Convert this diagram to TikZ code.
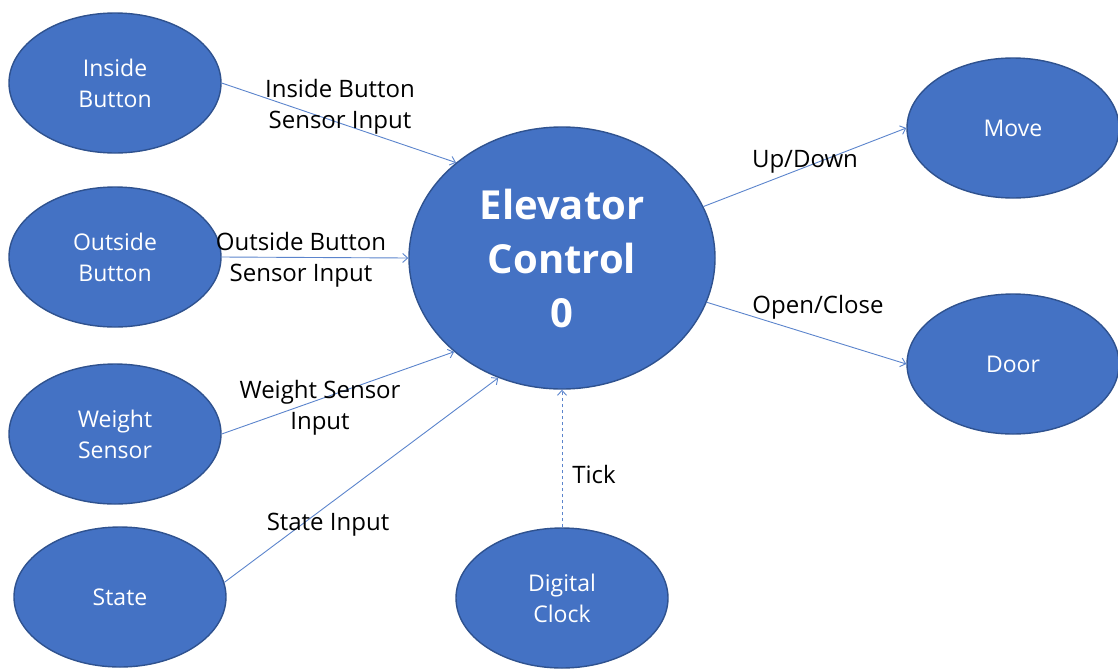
\documentclass[tikz,border=0pt]{standalone}
\usepackage{fontspec}
\setmainfont{Open Sans}
\usetikzlibrary{shapes.geometric,arrows.meta}
\definecolor{nodefill}{HTML}{4472C4}
\definecolor{nodeedge}{HTML}{2F528F}
\definecolor{linkblue}{HTML}{5B84CC}

\begin{document}
\begin{tikzpicture}[x=1pt,y=-1pt,
  blob/.style={ellipse, draw=nodeedge, line width=1.4pt, fill=nodefill, text=white,
    align=center, inner sep=0pt, minimum width=212pt, minimum height=140pt,
    font=\fontsize{23}{31}\selectfont},
  link/.style={draw=linkblue, line width=0.9pt, -{Straight Barb[length=5pt,width=9pt]}},
  lbl/.style={align=center, inner sep=0pt, font=\fontsize{24}{30.5}\selectfont}]
\useasboundingbox (0,0) rectangle (1118,670);

% sources and sinks
\node[blob] (ib) at (115,83)  {Inside\\Button};
\node[blob] (ob) at (115,257) {Outside\\Button};
\node[blob] (ws) at (115,434) {Weight\\Sensor};
\node[blob] (st) at (120,597) {State};
\node[blob] (mv) at (1013,128) {Move};
\node[blob] (dr) at (1013,364) {Door};
\node[blob] (dc) at (562,598) {Digital\\Clock};

% central controller
\node[blob, minimum width=306pt, minimum height=262pt,
      font=\fontsize{40}{54}\selectfont\bfseries] (ec) at (562,258) {Elevator\\Control\\0};

% data flows
\draw[link] (ib.east) -- (ec.138);
\draw[link] (ob.east) -- (ec.west);
\draw[link] (ws.east) -- (ec.221);
\draw[link] (st.8)    -- (ec.242);
\draw[link, dashed]   (dc.north) -- (ec.south);
\draw[link] (ec.20)   -- (mv.west);
\draw[link] (ec.-17)  -- (dr.west);

% flow labels
\node[lbl] (l1) at (340,107) {Inside Button\\Sensor Input};
\node[lbl] (l2) at (301,260) {Outside Button\\Sensor Input};
\node[lbl] (l3) at (320,408) {Weight Sensor\\Input};
\node[lbl] (l4) at (328,525) {State Input};
\node[lbl] (l5) at (594,474) {Tick};
\node[lbl] (l6) at (805,162) {Up/Down};
\node[lbl] (l7) at (818,307) {Open/Close};
\end{tikzpicture}
\end{document}
